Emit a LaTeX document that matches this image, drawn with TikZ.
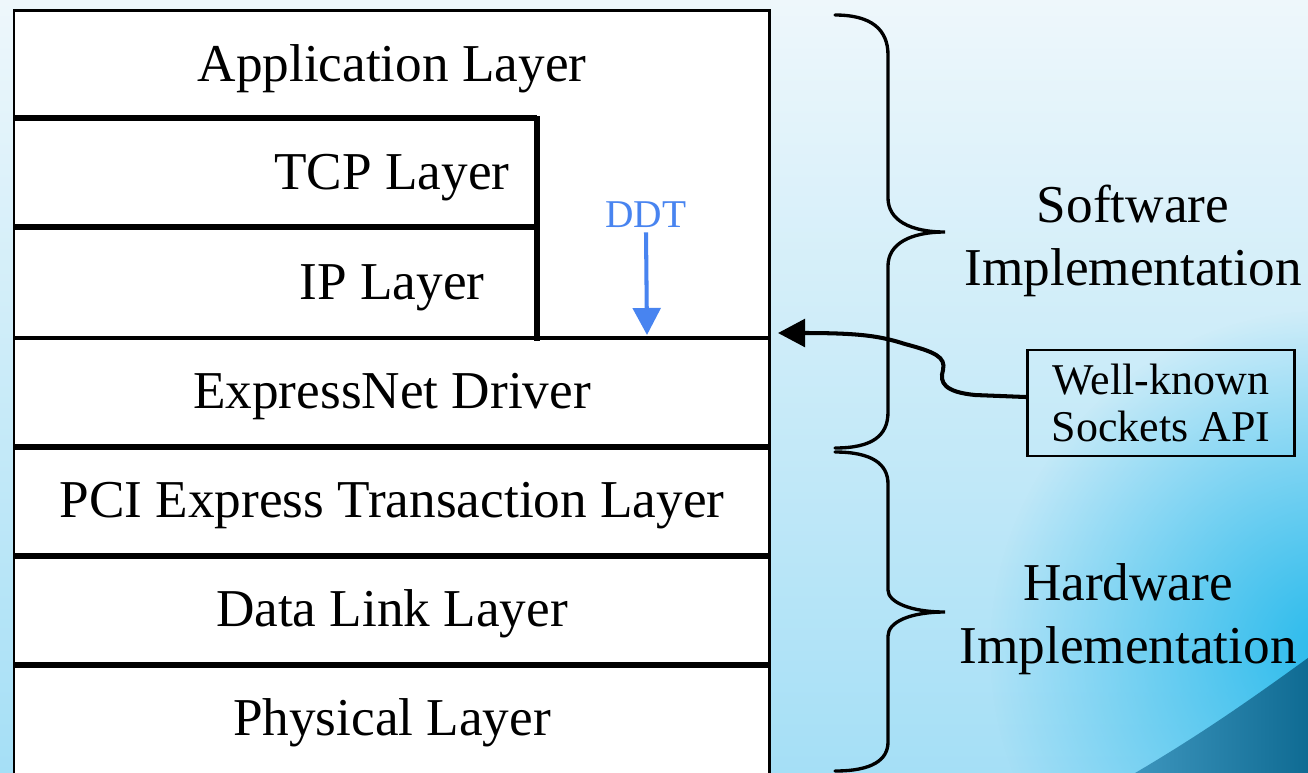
\documentclass[tikz,border=0pt]{standalone}
\usepackage{fontspec}
\setmainfont{Liberation Serif}
\usetikzlibrary{arrows.meta,fadings}

\definecolor{bgtop}{RGB}{238,247,251}
\definecolor{bgmid}{RGB}{226,243,250}
\definecolor{bgbot}{RGB}{165,223,246}
\definecolor{glow}{RGB}{40,186,236}
\definecolor{hilltop}{RGB}{62,150,190}
\definecolor{hillbot}{RGB}{14,106,146}
\definecolor{ddtblue}{RGB}{72,132,240}

\tikzfading[name=glowfade, inner color=transparent!0, outer color=transparent!100]

\begin{document}
\begin{tikzpicture}[x=0.02cm, y=-0.02cm,
  layertext/.style={font=\fontsize{30.3}{36}\selectfont, anchor=base, inner sep=0pt},
  sidetext/.style={font=\fontsize{30.3}{35.7}\selectfont, align=center, inner sep=0pt},
  apibox/.style={draw, line width=1.4pt, font=\fontsize{25}{26.6}\selectfont, align=center,
                 minimum width=5.34cm, minimum height=2.12cm, inner sep=0pt},
  frame/.style={line width=1.7pt},
  divider/.style={line width=3.1pt},
  post/.style={line width=3.5pt},
  brace/.style={line width=1.9pt, line cap=round},
  bigarrow/.style={line width=2.3pt, -{Triangle[length=0.54cm, width=0.55cm]}}]

\useasboundingbox (0,0) rectangle (1308,772);
\clip (0,0) rectangle (1308,772);

% backdrop
\shade[top color=bgtop, middle color=bgmid, bottom color=bgbot] (0,0) rectangle (1308,772);
\fill[glow, path fading=glowfade] (1330,650) circle (340);
\shade[left color=hilltop, right color=hillbot]
  (1130,776) .. controls (1200,735) and (1250,700) .. (1312,655) -- (1312,776) -- cycle;

% protocol stack
\fill[white] (14,10) rectangle (769,780);
\draw[frame] (14,780) -- (14,10) -- (769,10) -- (769,780);
\draw[divider] (14,118) -- (537,118);
\draw[divider] (14,227) -- (537,227);
\draw[post] (537,116) -- (537,341);
\draw[line width=2.6pt] (14,338) -- (769,338);
\draw[divider] (14,447) -- (769,447);
\draw[divider] (14,556) -- (769,556);
\draw[divider] (14,665) -- (769,665);

\node[layertext] (app)  at (392,81)  {Application Layer};
\node[layertext] (tcp)  at (392,189) {TCP Layer};
\node[layertext] (ip)   at (392,299) {IP Layer};
\node[layertext] (drv)  at (392,408) {ExpressNet Driver};
\node[layertext] (pci)  at (392,517) {PCI Express Transaction Layer};
\node[layertext] (dll)  at (392,626) {Data Link Layer};
\node[layertext] (phy)  at (392,735) {Physical Layer};

% DDT marker
\node[font=\fontsize{22.4}{26}\selectfont, text=ddtblue, anchor=base, inner sep=0pt] (ddt) at (646,227) {DDT};
\coordinate (ddtend) at (647,335);
\draw[bigarrow, ddtblue] ([yshift=-2.8pt]ddt.south) -- (ddtend);

% sockets API
\node[apibox] (api) at (1161,403) {Well-known\\Sockets API};
\coordinate (apiin) at (778,333);
\draw[bigarrow] ([yshift=3.4pt]api.west) -- (975,395)
  .. controls (945,392) and (939,383) .. (943,370)
  .. controls (946,357) and (935,352) .. (905,344)
  .. controls (880,336) and (860,333) .. (apiin);

% braces
\draw[brace] (835,15) .. controls (872,15) and (888,30) .. (888,55) -- (888,198)
  .. controls (888,220) and (910,232) .. (945,232)
  .. controls (910,232) and (888,244) .. (888,266) -- (888,412)
  .. controls (888,436) and (872,448) .. (835,448);
\draw[brace] (835,452) .. controls (872,452) and (888,464) .. (888,484) -- (888,590)
  .. controls (888,602) and (910,612) .. (945,612)
  .. controls (910,612) and (888,622) .. (888,636) -- (888,742)
  .. controls (888,760) and (872,771) .. (835,771);

\node[sidetext] (sw) at (1133,241) {Software\\Implementation};
\node[sidetext] (hw) at (1128,619) {Hardware\\Implementation};
\end{tikzpicture}
\end{document}
